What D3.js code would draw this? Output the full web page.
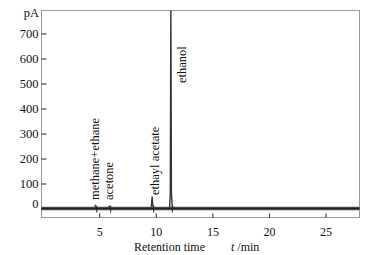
<!DOCTYPE html>
<html lang="en">
<head>
<meta charset="UTF-8">
<title>Chromatogram</title>
<style>
  body { margin: 0; background: #fff; }
  text { font-family: "Liberation Serif", "DejaVu Serif", serif; fill: #111; }
</style>
</head>
<body>
<div id="wrapper"></div>
<script src="https://d3js.org/d3.v7.min.js"></script>
<script>
// 峰的名稱、保留時間與高度
const peakNames = ['methane+ethane', 'acetone', 'ethayl acetate', 'ethanol'];
const peakTimes = [4.65, 5.88, 9.68, 11.33];
const peakHeights = [10, 8, 48, 820];

// 訊號曲線 (min, pA)
const signalTime = [0, 4.58, 4.65, 4.72, 5.8, 5.88, 5.96, 9.6, 9.66, 9.68, 9.72, 9.8,
  11.1, 11.22, 11.28, 11.33, 11.38, 11.45, 11.6, 28];
const signalPA = [0, 0, 10, 0, 0, 8, 0, 0, 40, 48, 20, 0,
  0, 6, 60, 820, 60, 10, 0, 0];

const xTicks = [5, 10, 15, 20, 25];
const yTicks = [0, 100, 200, 300, 400, 500, 600, 700];

const width = 370, height = 255;
const pLeft = 41.5, pRight = 359.5, pTop = 10.5, pBottom = 217.5;

const svg = d3.select('#wrapper').append('svg')
  .attr('width', width)
  .attr('height', height);

const x = d3.scaleLinear().domain([-0.1, 28]).range([pLeft, pRight]);
const y = d3.scaleLinear().domain([-36, 792]).range([pBottom, pTop]);

// 外框
svg.append('rect')
  .attr('x', pLeft).attr('y', pTop)
  .attr('width', pRight - pLeft).attr('height', pBottom - pTop)
  .attr('fill', 'none').attr('stroke', '#999').attr('stroke-width', 1);

// Y軸
const yAxis = svg.append('g')
  .attr('transform', `translate(${pLeft},0)`)
  .call(d3.axisRight(y).tickValues(yTicks).tickSize(5));
yAxis.select('.domain').remove();
yAxis.selectAll('.tick line').attr('stroke', '#222');
yAxis.selectAll('.tick text')
  .attr('text-anchor', 'end')
  .attr('x', -3)
  .attr('dy', '0.32em')
  .style('font-size', '12.5px');
yAxis.selectAll('.tick').filter(d => d === 0).select('text').attr('y', -5);

svg.append('text')
  .attr('x', 39).attr('y', 17)
  .attr('text-anchor', 'end')
  .style('font-size', '12.5px')
  .text('pA');

// X軸 (刻度朝內)
const xAxis = svg.append('g')
  .attr('transform', `translate(0,${pBottom})`)
  .call(d3.axisTop(x).tickValues(xTicks).tickSize(4));
xAxis.select('.domain').remove();
xAxis.selectAll('.tick line').attr('stroke', '#222');
xAxis.selectAll('.tick text')
  .attr('y', 18.5)
  .attr('dy', 0)
  .style('font-size', '12px');

const xl = svg.append('text')
  .attr('x', 134).attr('y', 251)
  .style('font-size', '12px');
xl.append('tspan').text('Retention time');
xl.append('tspan').attr('x', 231).style('font-style', 'italic').text('t');
xl.append('tspan').text(' /min');

// 訊號線
svg.append('clipPath').attr('id', 'plot')
  .append('rect').attr('x', pLeft).attr('y', pTop)
  .attr('width', pRight - pLeft).attr('height', pBottom - pTop);

const pts = signalTime.map((t, i) => [t, signalPA[i]]);
const line = d3.line().x(d => x(d[0])).y(d => y(d[1]));

svg.append('path')
  .attr('clip-path', 'url(#plot)')
  .attr('d', line(pts))
  .attr('fill', 'none')
  .attr('stroke', '#333')
  .attr('stroke-width', 1.4);

// 粗基線
svg.append('line')
  .attr('x1', pLeft).attr('x2', pRight)
  .attr('y1', y(0)).attr('y2', y(0))
  .attr('stroke', '#555').attr('stroke-width', 3.4);
svg.append('line')
  .attr('x1', pLeft).attr('x2', pRight)
  .attr('y1', y(0)).attr('y2', y(0))
  .attr('stroke', '#222').attr('stroke-width', 1.6);

// 峰標記
svg.append('g').selectAll('line')
  .data(peakTimes)
  .join('line')
  .attr('x1', d => x(d) + 1.5).attr('x2', d => x(d) + 1.5)
  .attr('y1', y(0) - 3).attr('y2', y(0) + 4)
  .attr('stroke', '#222').attr('stroke-width', 1);

// 峰名稱 (直排)
const labelBase = [34, 34, 54, 502];
const labelDx = [4, 4, 7, 15];
svg.append('g').selectAll('text')
  .data(peakNames)
  .join('text')
  .attr('transform', (d, i) => `translate(${x(peakTimes[i]) + labelDx[i]},${y(labelBase[i])}) rotate(-90)`)
  .style('font-size', '12.5px')
  .text(d => d);
</script>
</body>
</html>
